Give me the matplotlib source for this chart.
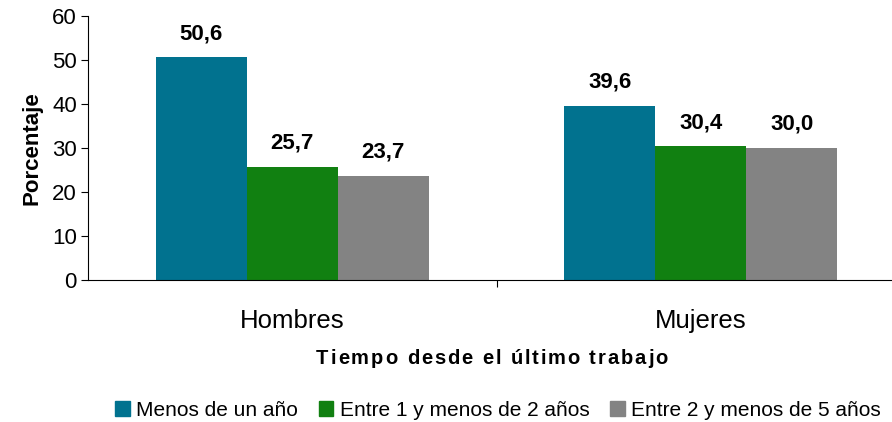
import numpy as np
import matplotlib.pyplot as plt
from matplotlib.patches import Patch

plt.rcParams['font.family'] = ['Liberation Sans', 'DejaVu Sans']

categorias = ["Hombres", "Mujeres"]
series = ["Menos de un año", "Entre 1 y menos de 2 años", "Entre 2 y menos de 5 años"]
menos_un_anio = [50.6, 39.6]
entre_1_y_2 = [25.7, 30.4]
entre_2_y_5 = [23.7, 30.0]
colores = ["#01728F", "#118011", "#838383"]
titulo_x = "Tiempo desde el último trabajo"

valores = [menos_un_anio, entre_1_y_2, entre_2_y_5]

fig = plt.figure(figsize=(8.92, 4.22), dpi=100)
ax = fig.add_axes([88 / 892, 1 - 280 / 422, 817 / 892, 264 / 422])

x = np.arange(len(categorias))
w = 0.2225
for i, (vals, col) in enumerate(zip(valores, colores)):
    pos = x + (i - 1) * w
    ax.bar(pos, vals, width=w, color=col, edgecolor='none')
    for p, v in zip(pos, vals):
        ax.text(p, v + 3.0, f"{v:.1f}".replace('.', ','), ha='center', va='bottom',
                fontsize=16, fontweight='bold')

ax.set_xlim(-0.5, 1.5)
ax.set_ylim(0, 60)
ax.set_yticks(range(0, 61, 10))
ax.tick_params(axis='y', labelsize=16, length=5, direction='out', pad=3)
ax.set_xticks([0.5])
ax.set_xticklabels([])
ax.tick_params(axis='x', length=5, direction='out')
for c, xx in zip(categorias, x):
    ax.text(xx, -6.5, c, ha='center', va='top', fontsize=18.5)
ax.spines['top'].set_visible(False)
ax.spines['right'].set_visible(False)

ax.set_ylabel("Porcentaje", fontsize=16, fontweight='bold', labelpad=7)

# etiqueta del eje x con espaciado entre letras
fig.canvas.draw()
r = fig.canvas.get_renderer()
sp = 1.9
partes = []
total = 0
for ch in titulo_x:
    t = fig.text(0, 0, ch if ch != ' ' else '\u00a0', fontsize=14.5, fontweight='bold')
    ww = t.get_window_extent(renderer=r).width
    if ch == ' ':
        ww = 14.5 * 100 / 72 * 0.28
    partes.append((t, ww))
    total += ww + sp
total -= sp
x0 = 492 - total / 2
for t, ww in partes:
    t.set_position((x0 / 892, 1 - 358 / 422))
    t.set_va('center')
    x0 += ww + sp

handles = [Patch(color=c) for c in colores]
fig.legend(handles, series, loc='center', bbox_to_anchor=(498 / 892, 1 - 410 / 422),
           ncol=3, frameon=False, fontsize=15, handlelength=0.7, handleheight=0.7,
           handletextpad=0.3, columnspacing=1.0)

fig.savefig("out.png", dpi=100)
